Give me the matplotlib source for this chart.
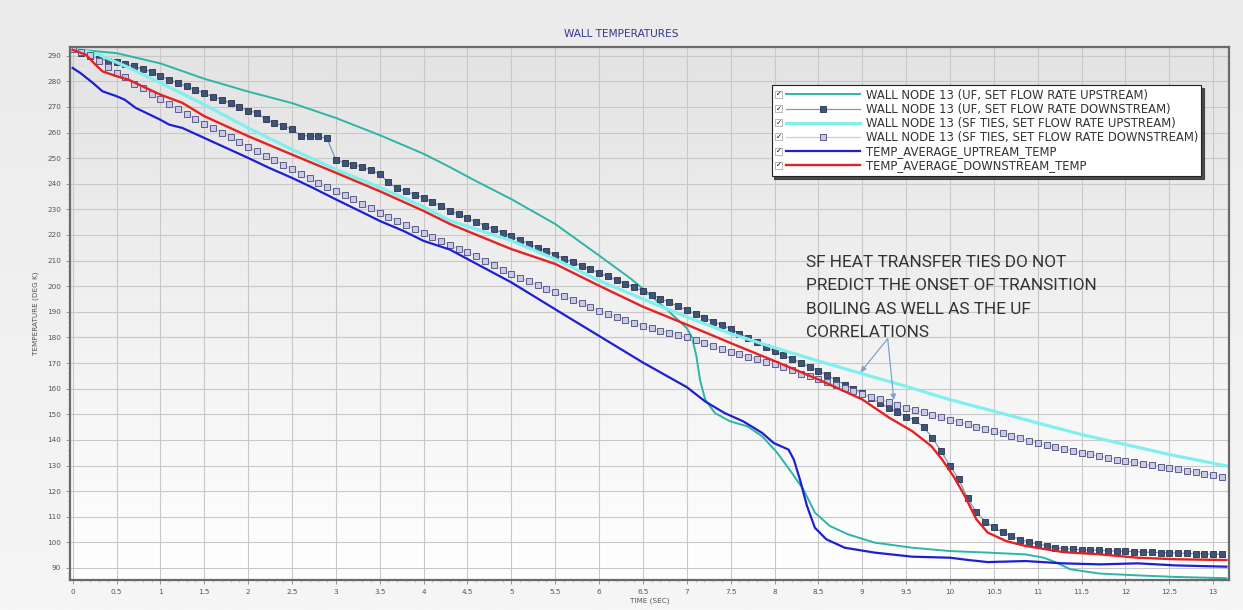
import numpy as np
import matplotlib
matplotlib.use('Agg')
import matplotlib.pyplot as plt
from matplotlib.colors import LinearSegmentedColormap
from matplotlib.legend_handler import HandlerLine2D
from matplotlib.lines import Line2D
from matplotlib.patches import Rectangle
from matplotlib.text import Text

# ---- data ----
# line series: (time, temperature)
uf_up_t = [0, 0.5, 1.0, 1.5, 2.0, 2.5, 3.0, 3.5, 4.0, 4.3, 4.6, 5.0, 5.5, 6.0, 6.36, 6.5, 6.77, 7.0,
           7.06, 7.11, 7.15, 7.21, 7.32, 7.49, 7.69, 7.86, 8.03, 8.2, 8.33, 8.46, 8.63, 8.84, 9.14,
           9.57, 10.0, 10.43, 10.86, 11.07, 11.2, 11.37, 11.71, 12.14, 12.57, 13.15]
uf_up_v = [292.6, 291.0, 287.0, 281.0, 276.0, 271.5, 265.7, 259.0, 251.7, 246.5, 241.0, 234.0, 224.3,
           212.0, 203.0, 199.0, 191.0, 183.6, 180.0, 172.6, 163.5, 155.7, 150.5, 147.3, 145.3, 141.4,
           135.0, 127.0, 120.6, 111.6, 106.4, 103.1, 99.9, 97.9, 96.6, 96.0, 95.3, 94.0, 92.3, 89.5,
           87.8, 87.1, 86.5, 86.0]

sf_up_t = [0.05, 0.3, 0.61, 1.0, 1.5, 2.0, 2.5, 3.0, 3.5, 4.0, 4.3, 5.0, 5.5, 6.0, 6.5, 7.0, 7.5, 8.0,
           8.5, 9.0, 9.5, 10.0, 10.5, 11.0, 11.5, 12.0, 12.5, 13.17]
sf_up_v = [292.6, 290.4, 285.8, 279.4, 270.9, 261.8, 253.4, 245.6, 238.6, 231.0, 225.6, 217.8, 210.6,
           202.2, 195.0, 188.0, 181.5, 176.0, 170.8, 165.8, 160.9, 155.7, 151.2, 146.6, 142.1, 138.2,
           134.3, 129.7]

avg_up_t = [0, 0.09, 0.23, 0.34, 0.5, 0.59, 0.72, 0.8, 1.0, 1.1, 1.25, 1.5, 1.75, 2.0, 2.24, 2.5, 2.74,
            3.0, 3.27, 3.5, 3.77, 4.0, 4.3, 4.6, 5.0, 5.5, 6.0, 6.5, 7.0, 7.21, 7.43, 7.64, 7.86, 7.99,
            8.16, 8.22, 8.29, 8.37, 8.46, 8.59, 8.8, 9.14, 9.57, 10.0, 10.21, 10.43, 10.86, 11.29,
            11.71, 12.14, 12.57, 13.15]
avg_up_v = [285.2, 283.2, 279.4, 276.1, 274.2, 272.9, 269.6, 268.3, 265.0, 263.1, 261.8, 257.9, 254.0,
            250.1, 246.2, 242.3, 238.4, 233.9, 229.4, 225.5, 221.6, 217.7, 214.3, 208.8, 201.5, 191.0,
            180.6, 170.2, 160.6, 155.0, 150.5, 147.3, 142.7, 138.8, 136.2, 132.3, 124.5, 114.2, 105.7,
            101.2, 97.9, 96.0, 94.4, 94.0, 93.1, 92.3, 92.7, 91.8, 91.4, 91.8, 91.0, 90.5]

avg_dn_t = [0, 0.15, 0.26, 0.34, 0.5, 0.64, 0.8, 1.0, 1.25, 1.5, 1.75, 2.0, 2.5, 3.0, 3.5, 4.0, 4.3,
            5.0, 5.5, 6.0, 6.5, 7.0, 7.5, 8.0, 8.5, 9.0, 9.31, 9.57, 9.79, 9.91, 10.04, 10.17, 10.3,
            10.43, 10.64, 10.86, 11.29, 11.71, 12.14, 12.57, 13.15]
avg_dn_v = [292.3, 290.4, 286.5, 283.9, 282.0, 280.6, 278.0, 274.8, 271.6, 266.4, 262.5, 258.6, 251.4,
            244.3, 237.1, 229.4, 224.3, 214.5, 208.7, 200.2, 192.0, 185.0, 177.8, 170.8, 163.6, 155.8,
            148.6, 143.4, 137.5, 132.3, 125.8, 118.0, 109.0, 103.8, 100.5, 98.6, 96.2, 95.3, 94.0,
            93.4, 93.1]

# marker series, one sample every 0.1 s
mk_t = np.round(np.arange(0, 13.15, 0.1), 1)
uf_dn_v = [292.5, 291.0, 289.8, 288.8, 288.1, 287.4, 286.6, 285.8, 284.8, 283.8,
           282.2, 280.6, 279.3, 278.0, 276.7, 275.3, 274.0, 272.9, 271.4, 269.9,
           268.6, 267.7, 265.3, 263.7, 262.7, 261.2, 258.8, 258.7, 258.5, 257.7,
           249.3, 248.3, 247.5, 246.6, 245.3, 243.8, 240.5, 238.2, 237.0, 235.8,
           234.5, 233.0, 231.2, 229.5, 228.1, 226.6, 225.1, 223.7, 222.3, 220.9,
           219.5, 218.0, 216.6, 215.1, 213.7, 212.2, 210.8, 209.4, 208.0, 206.6,
           205.2, 203.8, 202.4, 201.0, 199.6, 198.2, 196.7, 195.2, 193.7, 192.2,
           190.7, 189.2, 187.7, 186.2, 184.8, 183.4, 181.5, 179.8, 178.1, 176.3,
           174.6, 173.1, 171.6, 170.1, 168.5, 167.0, 165.2, 163.4, 161.6, 160.0,
           158.3, 156.3, 154.3, 152.6, 150.9, 149.1, 147.7, 145.0, 140.8, 135.5,
           129.9, 124.7, 117.2, 111.8, 108.1, 105.8, 103.9, 102.4, 101.1, 100.1,
           99.4, 98.6, 97.9, 97.5, 97.3, 97.1, 97.0, 96.9, 96.7, 96.6,
           96.5, 96.4, 96.2, 96.1, 96.0, 95.9, 95.8, 95.7, 95.6, 95.5,
           95.4, 95.3]
sf_dn_v = [292.5, 291.5, 290.2, 288.0, 285.7, 283.1, 281.5, 279.0, 277.3, 275.2,
           273.1, 271.0, 269.2, 267.2, 265.3, 263.5, 261.7, 260.0, 258.4, 256.4,
           254.4, 252.6, 251.0, 249.2, 247.4, 245.7, 244.0, 242.2, 240.2, 238.8,
           237.2, 235.5, 233.9, 232.2, 230.4, 228.7, 227.1, 225.6, 224.0, 222.5,
           220.9, 219.2, 217.6, 216.0, 214.7, 213.2, 211.8, 210.0, 208.3, 206.5,
           204.8, 203.4, 201.9, 200.5, 199.0, 197.6, 196.2, 194.7, 193.3, 191.8,
           190.4, 189.2, 188.0, 186.8, 185.6, 184.5, 183.6, 182.7, 181.8, 180.9,
           180.0, 178.9, 177.8, 176.6, 175.5, 174.4, 173.4, 172.4, 171.4, 170.4,
           169.5, 168.3, 167.1, 165.9, 164.8, 163.6, 162.5, 161.4, 160.2, 159.1,
           158.0, 156.9, 155.8, 154.7, 153.6, 152.5, 151.6, 150.7, 149.7, 148.8,
           147.9, 147.0, 146.1, 145.2, 144.3, 143.4, 142.5, 141.6, 140.6, 139.7,
           138.8, 138.0, 137.2, 136.5, 135.7, 134.9, 134.3, 133.6, 133.0, 132.3,
           131.7, 131.2, 130.7, 130.1, 129.6, 129.1, 128.5, 127.9, 127.3, 126.8,
           126.2, 125.6]

labels = ['WALL NODE 13 (UF, SET FLOW RATE UPSTREAM)',
          'WALL NODE 13 (UF, SET FLOW RATE DOWNSTREAM)',
          'WALL NODE 13 (SF TIES, SET FLOW RATE UPSTREAM)',
          'WALL NODE 13 (SF TIES, SET FLOW RATE DOWNSTREAM)',
          'TEMP_AVERAGE_UPTREAM_TEMP',
          'TEMP_AVERAGE_DOWNSTREAM_TEMP']

note_lines = ['SF HEAT TRANSFER TIES DO NOT',
              'PREDICT THE ONSET OF TRANSITION',
              'BOILING AS WELL AS THE UF',
              'CORRELATIONS']

xmin, xmax, ymin, ymax = -0.03, 13.18, 85.3, 293.4


class CheckHandler(HandlerLine2D):
    # legend entry = little ticked checkbox + the usual line sample
    def create_artists(self, legend, orig_handle, xdescent, ydescent, width, height, fontsize, trans):
        box = 0.6 * fontsize
        off = box + 0.3 * fontsize
        arts = super().create_artists(legend, orig_handle, xdescent - off, ydescent,
                                      width - off, height, fontsize, trans)
        y0 = -ydescent + (height - box) / 2
        rect = Rectangle((-xdescent, y0), box, box, facecolor='white', edgecolor='#9a9a9a',
                         lw=0.5, transform=trans)
        tick = Text(-xdescent + box / 2, y0 + box / 2, '\u2713', fontsize=fontsize * 0.62,
                    ha='center', va='center', color='black', fontweight='bold', transform=trans)
        return [rect, tick] + arts


fig = plt.figure(figsize=(12.43, 6.10), dpi=100)

# figure background gradient
bg = fig.add_axes([0, 0, 1, 1], zorder=-5)
bg.imshow(np.linspace(0, 1, 256).reshape(-1, 1), aspect='auto', extent=[0, 1, 0, 1],
          cmap=LinearSegmentedColormap.from_list('bg', ['#ebebeb', '#f6f6f6']))
bg.axis('off')

ax = fig.add_axes([70 / 1243, 1 - 580 / 610, 1159 / 1243, 533 / 610])
ax.imshow(np.linspace(0, 1, 256).reshape(-1, 1), aspect='auto', extent=[xmin, xmax, ymin, ymax],
          cmap=LinearSegmentedColormap.from_list('ax', ['#e3e3e3', '#ffffff']), zorder=-2)

h1, = ax.plot(uf_up_t, uf_up_v, color='#2db5a6', lw=1.4)
h2, = ax.plot(mk_t, uf_dn_v, color='#8796b4', lw=0.9, marker='s', ms=4.3,
              mfc='#3e5479', mec='#27324d', mew=0.6)
h3, = ax.plot(sf_up_t, sf_up_v, color='#80f0ee', lw=2.3)
h4, = ax.plot(mk_t, sf_dn_v, color='#cacaf0', lw=0.9, marker='s', ms=4.3,
              mfc='#c9c9e8', mec='#5d5d88', mew=0.7)
h5, = ax.plot(avg_up_t, avg_up_v, color='#1f1fd2', lw=1.6)
h6, = ax.plot(avg_dn_t, avg_dn_v, color='#e42222', lw=1.7)

ax.set_xlim(xmin, xmax)
ax.set_ylim(ymin, ymax)
ax.set_xticks(np.arange(0, 13.01, 0.5))
ax.set_xticklabels(['%g' % v for v in np.arange(0, 13.01, 0.5)])
ax.set_yticks(np.arange(90, 291, 10))
ax.set_xticks(np.arange(0, 13.15, 0.1), minor=True)
ax.set_yticks(np.arange(86, 293, 2), minor=True)
ax.tick_params(which='major', labelsize=5.2, labelcolor='#555555', color='#888888', length=3, width=0.6)
ax.tick_params(which='minor', color='#aaaaaa', length=1.5, width=0.5)
ax.grid(True, which='major', color='#c8c8c8', lw=0.8)
ax.set_axisbelow(True)
for s in ax.spines.values():
    s.set_color('#6a6a6a')
    s.set_linewidth(1.6)

ax.set_xlabel('TIME (SEC)', fontsize=5.2, color='#555555', labelpad=2)
ax.set_ylabel('TEMPERATURE (DEG K)', fontsize=5.2, color='#555555', labelpad=6)
fig.text(0.5, 1 - 34 / 610, 'WALL TEMPERATURES', ha='center', va='center',
         color='#37378c', fontsize=7.6)

# note: one text per line, baselines 23 px apart
for i, line in enumerate(note_lines):
    ax.annotate(line, xy=(8.36, 207.5), xytext=(0, -16.8 * i), textcoords='offset points',
                fontfamily='Roboto', fontsize=12.4, color='#333333', ha='left', va='baseline')
for tx, ty in [(8.98, 166.4), (9.36, 155.6)]:
    ax.annotate('', xy=(tx, ty), xytext=(9.29, 179.5),
                arrowprops=dict(arrowstyle='-|>', color='#7fa3cd', lw=0.9,
                                mutation_scale=8, shrinkA=0, shrinkB=0))

leg = ax.legend([h1, h2, h3, h4, h5, h6], labels, loc='upper left',
                bbox_to_anchor=(771.7 / 1243, 1 - 85 / 610), bbox_transform=fig.transFigure,
                borderaxespad=0, fancybox=False, shadow={'color': '#3a3a3a', 'alpha': 0.9},
                framealpha=1, edgecolor='#222222', prop=dict(size=8.4), handlelength=7.3,
                handletextpad=0.45, labelspacing=0.1, borderpad=0.3, numpoints=1,
                handler_map={Line2D: CheckHandler()})
leg.get_frame().set_linewidth(0.8)
for t in leg.get_texts():
    t.set_color('#333333')

fig.savefig('out.png', dpi=100)
